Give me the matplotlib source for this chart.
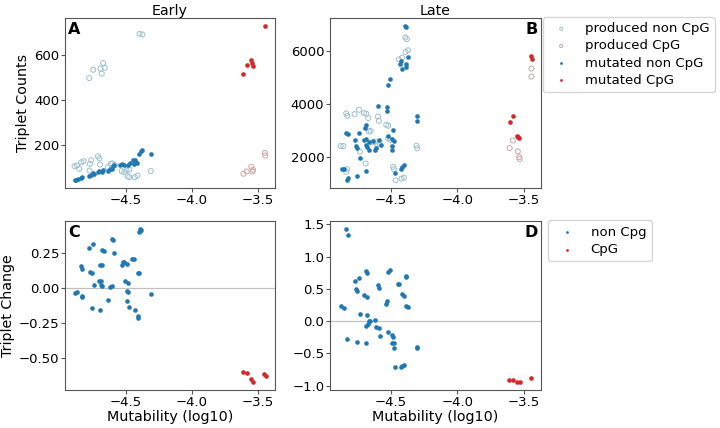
import numpy as np
import matplotlib
matplotlib.use('Agg')
import matplotlib.pyplot as plt

# ---- panel A: early triplet counts ----
a_mut_non_x = [-4.886, -4.876, -4.856, -4.836, -4.826, -4.776, -4.76, -4.75, -4.738, -4.71, -4.70,
               -4.68, -4.668, -4.63, -4.618, -4.605, -4.593, -4.588, -4.543, -4.525, -4.51, -4.485,
               -4.467, -4.447, -4.43, -4.436, -4.417, -4.40, -4.387, -4.375, -4.31]
a_mut_non_y = [41, 44, 47, 52, 55, 59, 65, 74, 71, 77, 82,
               78, 86, 82, 89, 92, 104, 108, 107, 114, 107, 111,
               118, 130, 130, 114, 118, 160, 170, 175, 160]
a_prod_non_x = [-4.886, -4.868, -4.85, -4.836, -4.818, -4.77, -4.76, -4.71, -4.698, -4.693, -4.773,
                -4.61, -4.60, -4.58, -4.53, -4.51, -4.485, -4.472, -4.492, -4.472, -4.43, -4.41,
                -4.31, -4.635, -4.395, -4.373, -4.775, -4.745, -4.69, -4.67, -4.657, -4.68]
a_prod_non_y = [104, 107, 92, 121, 126, 114, 130, 148, 139, 111, 84,
                114, 116, 108, 82, 77, 59, 55, 86, 89, 55, 62,
                82, 99, 693, 690, 496, 533, 538, 563, 542, 516]
a_mut_cpg_x = [-3.61, -3.585, -3.55, -3.545, -3.535, -3.448]
a_mut_cpg_y = [514, 555, 575, 563, 550, 729]
a_prod_cpg_x = [-3.61, -3.585, -3.55, -3.54, -3.537, -3.448, -3.445]
a_prod_cpg_y = [70, 80, 101, 80, 88, 163, 151]

# ---- panel B: late triplet counts ----
b_mut_non_x = [-4.395, -4.385, -4.372, -4.427, -4.435, -4.415, -4.39, -4.385, -4.508, -4.523,
               -4.595, -4.528, -4.533, -4.307, -4.307, -4.836, -4.823, -4.69, -4.695, -4.74,
               -4.773, -4.703, -4.685, -4.665, -4.635, -4.766, -4.753, -4.69, -4.678, -4.665,
               -4.59, -4.578, -4.615, -4.62, -4.52, -4.483, -4.49, -4.477, -4.49, -4.49,
               -4.733, -4.866, -4.853, -4.823, -4.828, -4.753, -4.685, -4.47, -4.427, -4.415, -4.40]
b_mut_non_y = [6962, 6924, 5785, 5633, 5506, 5316, 5506, 5418, 4937, 4747,
               3924, 3886, 3734, 3544, 3380, 2936, 2886, 3228, 3101, 2911,
               2658, 2658, 2696, 2595, 2620, 2443, 2367, 2468, 2405, 2278,
               2658, 2468, 2367, 2265, 2823, 3038, 2696, 2620, 2443, 2278,
               1987, 1556, 1582, 1227, 1164, 1303, 1506, 1430, 1582, 1645, 1708]
b_prod_non_x = [-4.836, -4.828, -4.773, -4.74, -4.703, -4.685, -4.67, -4.598, -4.59, -4.535,
                -4.52, -4.665, -4.653, -4.878, -4.858, -4.733, -4.69, -4.64, -4.615, -4.603,
                -4.585, -4.52, -4.503, -4.307, -4.302, -4.83, -4.836, -4.483, -4.477, -4.465,
                -4.42, -4.402, -4.392, -4.38, -4.39, -4.37, -4.44, -4.415]
b_prod_non_y = [3658, 3569, 3633, 3797, 3670, 3645, 3481, 3544, 3380, 3228,
                3190, 2974, 3000, 2430, 2430, 2215, 1772, 2570, 2595, 2493,
                2532, 2721, 2658, 2443, 2342, 1556, 1455, 1645, 1556, 1139,
                1202, 1240, 6519, 6456, 5975, 6038, 5696, 5760]
b_mut_cpg_x = [-3.443, -3.4375, -3.585, -3.607, -3.55, -3.537, -3.545]
b_mut_cpg_y = [5836, 5711, 3547, 3333, 2792, 2729, 2760]
b_prod_cpg_x = [-3.443, -3.443, -3.583, -3.607, -3.545, -3.535, -3.532]
b_prod_cpg_y = [5346, 5044, 2641, 2352, 2226, 2012, 1937]

# ---- panel C: early triplet change ----
c_non_x = [-4.39, -4.385, -4.395, -4.39, -4.605, -4.595, -4.776, -4.748, -4.675, -4.66,
           -4.588, -4.45, -4.44, -4.522, -4.51, -4.53, -4.487, -4.838, -4.826, -4.693,
           -4.68, -4.768, -4.755, -4.41, -4.40, -4.70, -4.688, -4.738, -4.685, -4.675,
           -4.618, -4.60, -4.505, -4.48, -4.492, -4.485, -4.868, -4.886, -4.83, -4.826,
           -4.31, -4.63, -4.487, -4.756, -4.693, -4.472, -4.43, -4.41, -4.405]
c_non_y = [0.424, 0.417, 0.40, 0.41, 0.351, 0.34, 0.283, 0.314, 0.271, 0.264,
           0.248, 0.21, 0.21, 0.186, 0.19, 0.165, 0.174, 0.158, 0.134, 0.165,
           0.163, 0.118, 0.111, 0.106, 0.106, 0.052, 0.052, 0.024, 0.024, 0.017,
           0.012, 0.017, 0.052, 0.04, -0.019, -0.026, -0.026, -0.035, -0.054, -0.066,
           -0.042, -0.083, -0.09, -0.144, -0.153, -0.137, -0.153, -0.20, -0.212]
c_cpg_x = [-3.6125, -3.585, -3.55, -3.5375, -3.4525, -3.4425]
c_cpg_y = [-0.593, -0.605, -0.644, -0.67, -0.612, -0.622]

# ---- panel D: late triplet change ----
d_non_x = [-4.836, -4.823, -4.69, -4.683, -4.523, -4.508, -4.39, -4.383, -4.773, -4.74,
           -4.447, -4.44, -4.598, -4.59, -4.765, -4.756, -4.415, -4.40, -4.703, -4.678,
           -4.528, -4.535, -4.878, -4.853, -4.39, -4.372, -4.736, -4.678, -4.665, -4.655,
           -4.623, -4.685, -4.67, -4.615, -4.59, -4.583, -4.52, -4.49, -4.485, -4.828,
           -4.753, -4.685, -4.495, -4.477, -4.48, -4.307, -4.302, -4.47, -4.427, -4.417, -4.402]
d_non_y = [1.433, 1.335, 0.778, 0.753, 0.763, 0.799, 0.696, 0.69, 0.619, 0.675,
           0.582, 0.582, 0.557, 0.515, 0.495, 0.464, 0.418, 0.397, 0.402, 0.376,
           0.314, 0.273, 0.237, 0.211, 0.237, 0.216, 0.108, 0.088, 0.005, 0.0,
           0.015, -0.072, -0.046, -0.098, -0.113, -0.227, -0.175, -0.216, -0.242, -0.278,
           -0.33, -0.345, -0.345, -0.345, -0.423, -0.397, -0.41, -0.716, -0.706, -0.70, -0.686]
d_cpg_x = [-3.6125, -3.5825, -3.55, -3.5325, -3.4425]
d_cpg_y = [-0.907, -0.907, -0.948, -0.948, -0.881]

blue = '#1f77b4'
red = '#d62728'
light_blue = '#9dbfcf'
light_red = '#cfa5a5'
spine_col = '#555555'

plt.rcParams['font.family'] = 'DejaVu Sans'
fig = plt.figure(figsize=(7.2, 4.28), dpi=100)

axA = fig.add_axes([65/720, 1-188/428, 210/720, 170/428])
axB = fig.add_axes([330/720, 1-188/428, 211/720, 170/428])
axC = fig.add_axes([65/720, 1-390/428, 210/720, 169/428])
axD = fig.add_axes([330/720, 1-390/428, 211/720, 169/428])

def counts_panel(ax, pnx, pny, pcx, pcy, mnx, mny, mcx, mcy):
    ax.scatter(pnx, pny, s=13, facecolors='none', edgecolors=light_blue, linewidths=0.7,
               label='produced non CpG')
    ax.scatter(pcx, pcy, s=13, facecolors='none', edgecolors=light_red, linewidths=0.7,
               label='produced CpG')
    ax.scatter(mnx, mny, s=11, color=blue, linewidths=0, label='mutated non CpG')
    ax.scatter(mcx, mcy, s=11, color=red, linewidths=0, label='mutated CpG')

def change_panel(ax, nx, ny, cx, cy):
    ax.axhline(0, color='#c0c0c0', lw=0.9, zorder=0)
    ax.scatter(nx, ny, s=11, color=blue, linewidths=0, label='non Cpg')
    ax.scatter(cx, cy, s=11, color=red, linewidths=0, label='CpG')

counts_panel(axA, a_prod_non_x, a_prod_non_y, a_prod_cpg_x, a_prod_cpg_y,
             a_mut_non_x, a_mut_non_y, a_mut_cpg_x, a_mut_cpg_y)
counts_panel(axB, b_prod_non_x, b_prod_non_y, b_prod_cpg_x, b_prod_cpg_y,
             b_mut_non_x, b_mut_non_y, b_mut_cpg_x, b_mut_cpg_y)
change_panel(axC, c_non_x, c_non_y, c_cpg_x, c_cpg_y)
change_panel(axD, d_non_x, d_non_y, d_cpg_x, d_cpg_y)

for ax in [axA, axB, axC, axD]:
    ax.set_xlim(-4.958, -3.371)
    ax.set_xticks([-4.5, -4.0, -3.5])
    ax.tick_params(labelsize=9.5, color=spine_col, length=2.8, pad=1.3)
    for sp in ax.spines.values():
        sp.set_color(spine_col)

axA.set_yticks([200, 400, 600])
axB.set_yticks([2000, 4000, 6000])
axC.set_yticks([-0.5, -0.25, 0, 0.25])
axD.set_yticks([-1.0, -0.5, 0, 0.5, 1.0, 1.5])

axA.set_title('Early', fontsize=10.3, pad=2)
axB.set_title('Late', fontsize=10.3, pad=2)
axA.set_ylabel('Triplet Counts', fontsize=10.3, labelpad=3)
axC.set_ylabel('Triplet Change', fontsize=10.3, labelpad=3)
axC.set_xlabel('Mutability (log10)', fontsize=10.3, labelpad=1)
axD.set_xlabel('Mutability (log10)', fontsize=10.3, labelpad=1)

for ax, letter, right in [(axA, 'A', False), (axB, 'B', True), (axC, 'C', False), (axD, 'D', True)]:
    ax.text(0.984 if right else 0.016, 0.978, letter, transform=ax.transAxes, fontsize=11.5,
            fontweight='bold', va='top', ha='right' if right else 'left')

axB.legend(loc='upper left', bbox_to_anchor=(1.008, 1.006), borderaxespad=0, fontsize=9.5,
           markerscale=0.6, labelspacing=0.32)
axD.legend(loc='upper left', bbox_to_anchor=(1.035, 1.003), borderaxespad=0, fontsize=9.5,
           markerscale=0.6, labelspacing=0.32)

fig.savefig('out.png', dpi=100)
